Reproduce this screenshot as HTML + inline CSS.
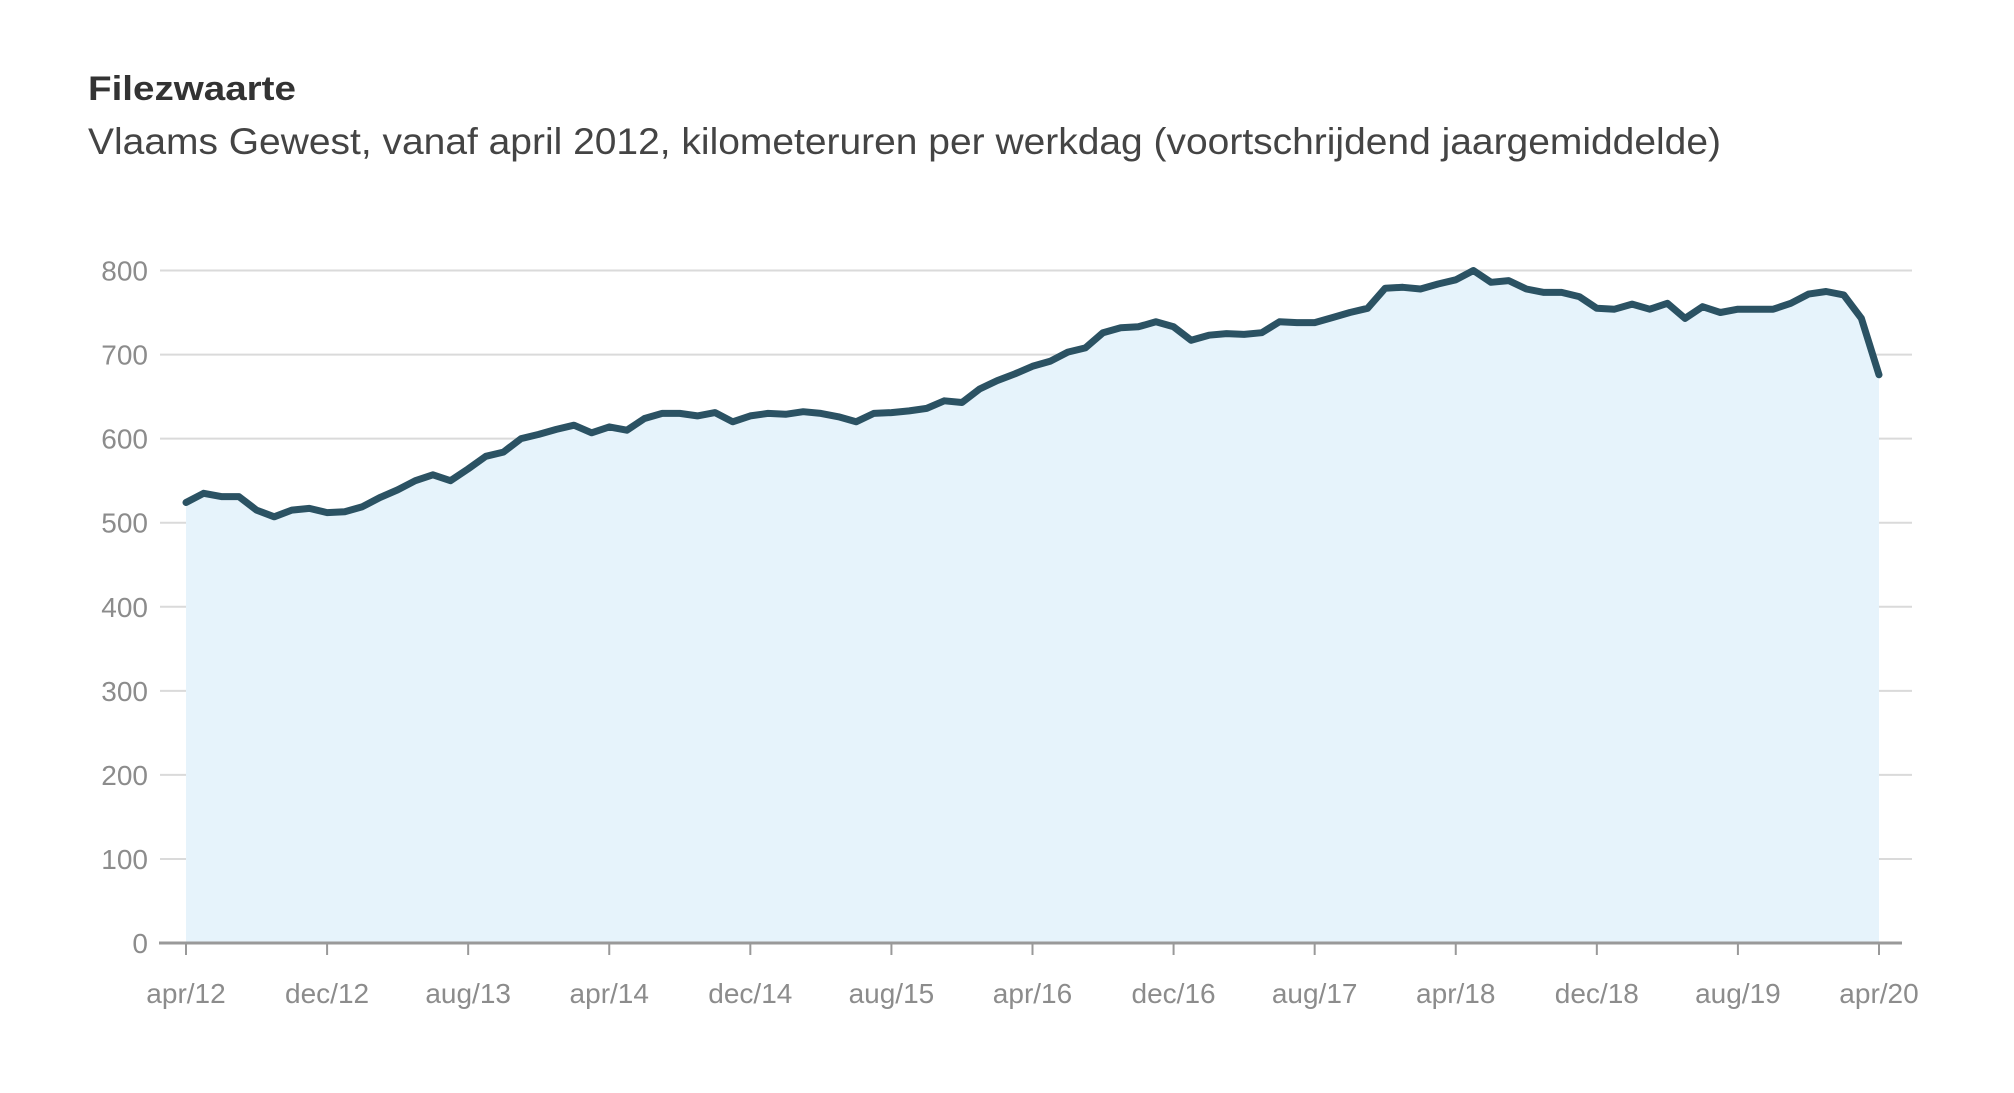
<!DOCTYPE html>
<html><head><meta charset="utf-8"><style>
html,body{margin:0;padding:0;background:#fff;}
svg{display:block;font-family:"Liberation Sans",sans-serif;}
</style></head><body>
<svg width="2014" height="1093" viewBox="0 0 2014 1093">
<text x="88" y="100" font-size="34" font-weight="bold" fill="#333" textLength="208" lengthAdjust="spacingAndGlyphs">Filezwaarte</text>
<text x="88" y="154" font-size="37" fill="#444" textLength="1633" lengthAdjust="spacingAndGlyphs">Vlaams Gewest, vanaf april 2012, kilometeruren per werkdag (voortschrijdend jaargemiddelde)</text>
<g id="grid"></g>
<path id="area" fill="#e6f3fb"></path>
<g id="axis"></g>
<path id="line" fill="none" stroke="#2b5263" stroke-width="7" stroke-linejoin="round" stroke-linecap="round"></path>
</svg>
<script>
const values = [524,535,531,531,515,507,515,517,512,513,519,530,539,550,557,550,564,579,584,600,605,611,616,607,614,
610,624,630,630,627,631,620,627,630,629,632,630,626,620,630,631,633,636,645,643,659,669,677,686,
692,703,708,726,732,733,739,733,717,723,725,724,726,739,738,738,744,750,755,779,780,778,784,
789,800,786,788,778,774,774,769,755,754,760,754,761,743,757,750,754,754,754,761,772,775,771,743,676];
const yTicks = [0,100,200,300,400,500,600,700,800];
const xTickLabels = ["apr/12","dec/12","aug/13","apr/14","dec/14","aug/15","apr/16","dec/16","aug/17","apr/18","dec/18","aug/19","apr/20"];
const xTickMonths = [0,8,16,24,32,40,48,56,64,72,80,88,96];
const NS = "http://www.w3.org/2000/svg";
const x0 = 186, x1 = 1879, nMonths = 96;
const y0 = 943, pxPerUnit = 0.8406;
function X(m){ return x0 + (x1 - x0) * m / nMonths; }
function Y(v){ return y0 - v * pxPerUnit; }
const grid = document.getElementById('grid');
yTicks.forEach(t => {
  if (t > 0) {
    const l = document.createElementNS(NS,'line');
    
    
    l.setAttribute('x1',160); l.setAttribute('x2',1912);
    l.setAttribute('y1',Y(t)); l.setAttribute('y2',Y(t));
    l.setAttribute('stroke','#dadada'); l.setAttribute('stroke-width','2');
    grid.appendChild(l);
  }
  const tx = document.createElementNS(NS,'text');
  
  
  tx.setAttribute('x',148); tx.setAttribute('y',Y(t)+10);
  tx.setAttribute('text-anchor','end'); tx.setAttribute('font-size','28');
  tx.setAttribute('fill','#8c8c8c');
  tx.textContent = t;
  grid.appendChild(tx);
});
let d = '';
values.forEach((v,i) => { d += (i ? 'L' : 'M') + X(i).toFixed(1) + ',' + Y(v).toFixed(1); });
document.getElementById('line').setAttribute('d', d);
document.getElementById('area').setAttribute('d', d + 'L' + X(values.length-1) + ',' + y0 + 'L' + X(0) + ',' + y0 + 'Z');
const axis = document.getElementById('axis');
const al = document.createElementNS(NS,'line');


al.setAttribute('x1',159); al.setAttribute('x2',1902); al.setAttribute('y1',y0); al.setAttribute('y2',y0);
al.setAttribute('stroke','#999'); al.setAttribute('stroke-width','3');
axis.appendChild(al);
xTickMonths.forEach((m,i) => {
  const tk = document.createElementNS(NS,'line');
  
  
  tk.setAttribute('x1',X(m)); tk.setAttribute('x2',X(m)); tk.setAttribute('y1',y0); tk.setAttribute('y2',y0+12);
  tk.setAttribute('stroke','#999'); tk.setAttribute('stroke-width','2');
  axis.appendChild(tk);
  const tx = document.createElementNS(NS,'text');
  
  
  tx.setAttribute('x',X(m)); tx.setAttribute('y',1003);
  tx.setAttribute('text-anchor','middle'); tx.setAttribute('font-size','28');
  tx.setAttribute('fill','#8c8c8c');
  tx.textContent = xTickLabels[i];
  axis.appendChild(tx);
});
</script>
</body></html>
